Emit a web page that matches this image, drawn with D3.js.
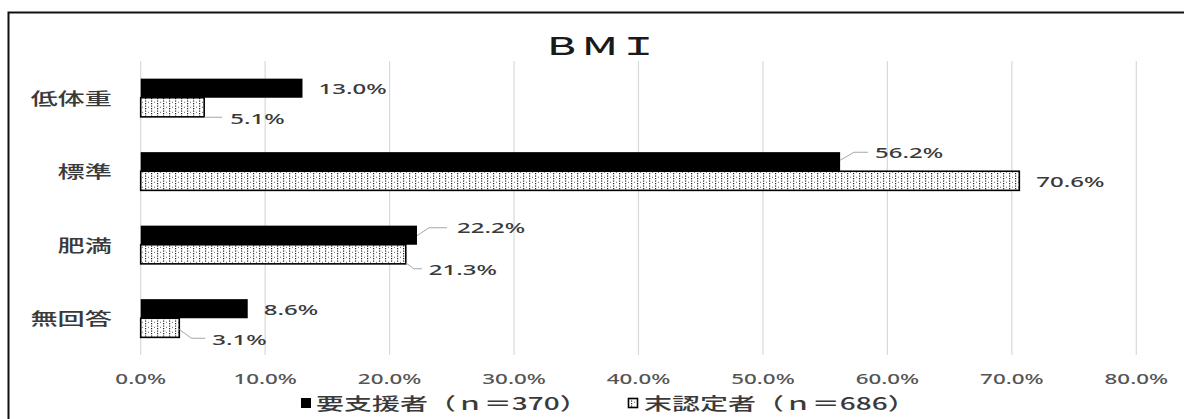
<!DOCTYPE html>
<html>
<head>
<meta charset="utf-8">
<script src="https://cdn.jsdelivr.net/npm/d3@7"></script>
<style>
  html, body { margin: 0; padding: 0; background: #ffffff; }
  svg { display: block; }
</style>
</head>
<body>
<svg id="chart" width="1184" height="419"></svg>
<script>
// BMI distribution for two groups
const categories = ["低体重", "標準", "肥満", "無回答"];
const seriesNames = ["要支援者（ｎ＝370）", "末認定者（ｎ＝686）"];
const supportNeeded = [13.0, 56.2, 22.2, 8.6];   // 要支援者
const notCertified = [5.1, 70.6, 21.3, 3.1];     // 末認定者
const xTicks = [0, 10, 20, 30, 40, 50, 60, 70, 80];
const titleText = "ＢＭＩ";

const W = 1184, H = 419;
const svg = d3.select("#chart");
const STRETCH = 1.6;           // horizontal stretch applied to all text
const textGray = "#3a3a3a";

// dotted fill for the second series
const defs = svg.append("defs");
const pat = defs.append("pattern")
  .attr("id", "dots").attr("patternUnits", "userSpaceOnUse")
  .attr("width", 6).attr("height", 5);
pat.append("rect").attr("width", 6).attr("height", 5).attr("fill", "#ffffff");
pat.append("rect").attr("x", 1).attr("y", 0.5).attr("width", 1.2).attr("height", 1.2).attr("fill", "#222");
pat.append("rect").attr("x", 1).attr("y", 3).attr("width", 1.2).attr("height", 1.2).attr("fill", "#222");
pat.append("rect").attr("x", 4).attr("y", 1.8).attr("width", 1.0).attr("height", 1.0).attr("fill", "#666");

// outer frame
svg.append("rect")
  .attr("x", 8.5).attr("y", 12.5).attr("width", W + 20).attr("height", H + 20)
  .attr("fill", "#ffffff").attr("stroke", "#111").attr("stroke-width", 2);

const x = d3.scaleLinear().domain([0, 80]).range([140.7, 1136.3]);
const y = d3.scaleBand().domain(categories).range([61, 355])
  .paddingInner(0.48).paddingOuter(0.24);
const ySub = d3.scaleBand().domain([0, 1]).range([0, y.bandwidth()]);

// helper: horizontally stretched text
function stext(g, tx, ty, str, opts) {
  return g.append("text")
    .attr("transform", `translate(${tx},${ty}) scale(${STRETCH},1)`)
    .attr("text-anchor", opts.anchor || "start")
    .attr("dominant-baseline", "central")
    .attr("font-family", opts.family || "'Noto Sans CJK JP', 'Noto Sans', sans-serif")
    .attr("font-size", opts.size)
    .attr("font-weight", opts.weight || 400)
    .attr("fill", opts.fill || textGray)
    .text(str);
}

// title
stext(svg, 600, 45, titleText, { anchor: "middle", size: 24, fill: "#1a1a1a", weight: 500 });

// vertical gridlines
svg.append("g").selectAll("line").data(xTicks).join("line")
  .attr("x1", d => x(d)).attr("x2", d => x(d))
  .attr("y1", 61).attr("y2", 355)
  .attr("stroke", "#d9d9d9").attr("stroke-width", 1.2);

// x tick labels
const tickG = svg.append("g");
xTicks.forEach(t => {
  stext(tickG, x(t), 378, d3.format(".1f")(t) + "%", {
    anchor: "middle", size: 14, fill: "#555", family: "'Noto Sans', sans-serif", weight: 500
  });
});

// category labels
const catG = svg.append("g");
categories.forEach(c => {
  stext(catG, 112, y(c) + y.bandwidth() / 2, c, { anchor: "end", size: 17, weight: 500 });
});

// bars
const seriesData = [supportNeeded, notCertified];
const barG = svg.append("g");
seriesData.forEach((vals, si) => {
  barG.selectAll(null).data(vals).join("rect")
    .attr("x", x(0))
    .attr("y", (d, i) => y(categories[i]) + ySub(si))
    .attr("width", d => x(d) - x(0))
    .attr("height", ySub.bandwidth())
    .attr("fill", si === 0 ? "#000" : "url(#dots)")
    .attr("stroke", si === 0 ? "none" : "#000")
    .attr("stroke-width", si === 0 ? 0 : 1.6);
});

// data label layout, offsets relative to (bar end, category centre)
const labelLayout = [
  [ // 要支援者
    { dx: 16, dy: -9.5, leader: null },
    { dx: 35, dy: -19, leader: [[0, -11], [14, -19], [28, -19]] },
    { dx: 40, dy: -17, leader: [[0, -9], [12, -17], [30, -17]] },
    { dx: 16, dy: -9, leader: null }
  ],
  [ // 末認定者
    { dx: 26, dy: 21, leader: [[0, 19.5], [18, 19.5]] },
    { dx: 17, dy: 10, leader: null },
    { dx: 23, dy: 25, leader: [[0, 18], [8, 24], [16, 24]] },
    { dx: 33, dy: 21, leader: [[0, 11], [12, 20], [26, 20]] }
  ]
];

const lblG = svg.append("g");
seriesData.forEach((vals, si) => {
  vals.forEach((v, i) => {
    const L = labelLayout[si][i];
    const xe = x(v);
    const c = y(categories[i]) + y.bandwidth() / 2;
    if (L.leader) {
      lblG.append("path")
        .attr("d", d3.line()(L.leader.map(p => [xe + p[0], c + p[1]])))
        .attr("fill", "none").attr("stroke", "#a6a6a6").attr("stroke-width", 1);
    }
    stext(lblG, xe + L.dx, c + L.dy, d3.format(".1f")(v) + "%", {
      size: 15, family: "'Noto Sans', sans-serif", weight: 500
    });
  });
});

// legend
const legG = svg.append("g");
legG.append("rect").attr("x", 301).attr("y", 398).attr("width", 10).attr("height", 10).attr("fill", "#000");
stext(legG, 316, 403, seriesNames[0], { size: 17.5, weight: 500 });
legG.append("rect").attr("x", 628.5).attr("y", 398.5).attr("width", 9).attr("height", 9)
  .attr("fill", "url(#dots)").attr("stroke", "#000").attr("stroke-width", 1.6);
stext(legG, 644, 403, seriesNames[1], { size: 17.5, weight: 500 });
</script>
</body>
</html>
